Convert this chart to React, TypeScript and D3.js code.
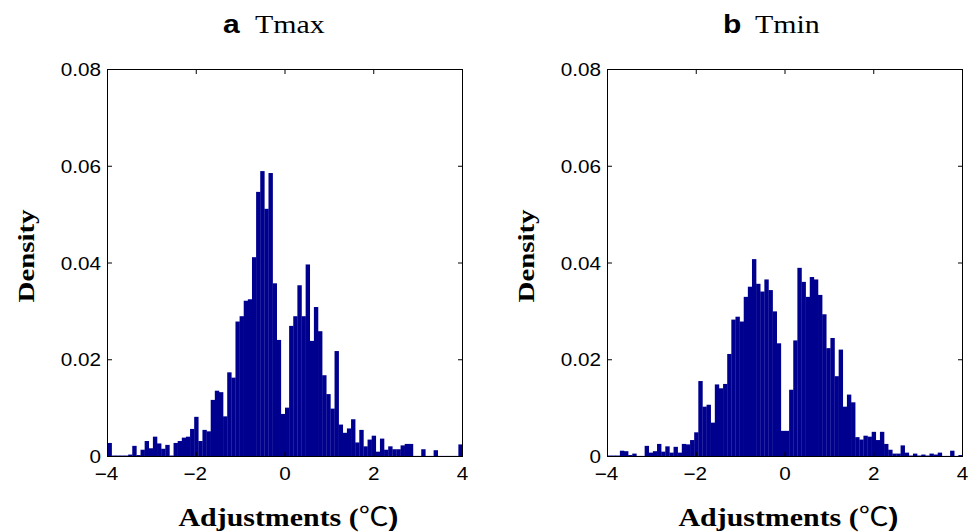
import React from "react";
import * as d3 from "d3";

// Histogram densities, bins of equal width starting at -4
const binStart = -4;
const binWidth = 8 / 86;

const tmaxDensity = [
  0.0028, 0.0002, 0.0002, 0.0002, 0.0002, 0.0004, 0.0022, 0.0003, 0.0014, 0.0032,
  0.0017, 0.0041, 0.0027, 0.0016, 0.0024, 0.0002, 0.0028, 0.0032, 0.0039, 0.0041,
  0.0057, 0.0082, 0.0032, 0.0055, 0.0052, 0.0117, 0.0136, 0.0133, 0.0083, 0.0174,
  0.0163, 0.0279, 0.029, 0.0322, 0.0325, 0.0412, 0.0547, 0.059, 0.0512, 0.0586,
  0.0358, 0.0241, 0.0088, 0.0101, 0.027, 0.029, 0.0354, 0.029, 0.0397, 0.0239,
  0.0309, 0.0259, 0.0168, 0.0129, 0.0099, 0.0218, 0.0066, 0.0049, 0.0058, 0.0077,
  0.0029, 0.0055, 0.0021, 0.0035, 0.0043, 0.001, 0.0037, 0.0014, 0.0021, 0.0015,
  0.0015, 0.0023, 0.0026, 0.0026, 0.0001, 0.0001, 0.0015, 0.0001, 0.0001, 0.0013,
  0.0001, 0.0001, 0.0001, 0.0001, 0.0001, 0.0025,
];

const tminDensity = [
  0.0002, 0.0002, 0.0002, 0.0012, 0.0011, 0.0003, 0.0006, 0.0001, 0.0001, 0.0022,
  0.0008, 0.0011, 0.0026, 0.001, 0.0021, 0.0008, 0.002, 0.0008, 0.0026, 0.0025,
  0.0034, 0.005, 0.0156, 0.0103, 0.0107, 0.007, 0.0149, 0.0141, 0.015, 0.0212,
  0.0283, 0.0289, 0.0279, 0.033, 0.0351, 0.0408, 0.0357, 0.0341, 0.0366, 0.0344,
  0.03, 0.0234, 0.0053, 0.0053, 0.0138, 0.024, 0.039, 0.0361, 0.033, 0.0371,
  0.0366, 0.0334, 0.0294, 0.0224, 0.0245, 0.0166, 0.0221, 0.0103, 0.0128, 0.0112,
  0.004, 0.0035, 0.0043, 0.0041, 0.0051, 0.0034, 0.0051, 0.0026, 0.0014, 0.0006,
  0.0006, 0.0023, 0.0008, 0.0002, 0.0006, 0.0002, 0.0004, 0.0002, 0.0006, 0.0004,
  0.0008, 0.0001, 0.0001, 0.0012, 0.0001, 0.0003,
];

const xTicks = [-4, -2, 0, 2, 4];
const yTicks = [0, 0.02, 0.04, 0.06, 0.08];
const panelLetters = ["a", "b"];
const panelNames = ["Tmax", "Tmin"];
const yLabel = "Density";
const xLabel = "Adjustments (";

const W = 976;
const H = 532;
const barColor = "#00008f";
const sans = "'Liberation Sans', Arial, Helvetica, sans-serif";
const serif = "'Liberation Serif', 'Times New Roman', serif";
const SX = 1.15;

function fmtY(v: number) {
  return v === 0 ? "0" : v.toFixed(2);
}
function fmtX(v: number) {
  return v < 0 ? "\u2212" + Math.abs(v) : String(v);
}

function Panel({ left, data, letter, name }: { left: number; data: number[]; letter: string; name: string }) {
  const width = 355;
  const top = 69.5;
  const bottom = 456.5;
  const x = d3.scaleLinear().domain([-4, 4]).range([left, left + width]);
  const y = d3.scaleLinear().domain([0, 0.08]).range([bottom, top]);
  const tick = 4.5;
  return (
    <g>
      <defs>
        <clipPath id={"clip-" + letter}>
          <rect x={left} y={top} width={width} height={bottom - top} />
        </clipPath>
      </defs>
      <g clipPath={`url(#clip-${letter})`}>
        {data.map((d, i) => {
          const x0 = x(binStart + i * binWidth);
          const x1 = x(binStart + (i + 1) * binWidth);
          const h = Math.max(y(0) - y(d), 0.6);
          return <rect key={i} x={x0} y={y(0) - h} width={x1 - x0 + 0.25} height={h} fill={barColor} />;
        })}
      </g>
      <rect x={left} y={top} width={width} height={bottom - top} fill="none" stroke="#000" strokeWidth={1} />
      {xTicks.map((t) => (
        <g key={"xt" + t}>
          <line x1={x(t)} x2={x(t)} y1={bottom} y2={bottom - tick} stroke="#000" />
          <line x1={x(t)} x2={x(t)} y1={top} y2={top + tick} stroke="#000" />
          <g transform={`translate(${x(t) - (t < 0 ? 1 : 0)},480) scale(${SX},1)`}>
            <text textAnchor="middle" fontFamily={sans} fontSize={18} fill="#000">
              {fmtX(t)}
            </text>
          </g>
        </g>
      ))}
      {yTicks.map((t) => (
        <g key={"yt" + t}>
          <line x1={left} x2={left + tick} y1={y(t)} y2={y(t)} stroke="#000" />
          <line x1={left + width} x2={left + width - tick} y1={y(t)} y2={y(t)} stroke="#000" />
          <g transform={`translate(${left - 6.5},${y(t) + 6.5}) scale(${SX},1)`}>
            <text textAnchor="end" fontFamily={sans} fontSize={18} fill="#000">
              {fmtY(t)}
            </text>
          </g>
        </g>
      ))}
      <g transform={`translate(${left + 115.5},33) scale(1.2,1)`}>
        <text fontFamily={sans} fontWeight="bold" fontSize={25} fill="#000">{letter}</text>
      </g>
      <g transform={`translate(${left + 147.5},33) scale(${SX},1)`}>
        <text fontFamily={serif} fontSize={26} fill="#000">{name}</text>
      </g>
      <g transform={`translate(${left - 74},256) rotate(-90) scale(1.2,1)`}>
        <text textAnchor="middle" fontFamily={serif} fontWeight="bold" fontSize={24} fill="#000">
          {yLabel}
        </text>
      </g>
      <g transform={`translate(${left + 181},525.5) scale(${SX},1)`}>
        <text textAnchor="middle" fontFamily={serif} fontWeight="bold" fontSize={26} fill="#000">
          {xLabel}
          <tspan fontFamily="'Noto Sans CJK SC', 'DejaVu Sans', sans-serif" fontWeight="normal">℃</tspan>
          <tspan fontFamily={sans}>)</tspan>
        </text>
      </g>
    </g>
  );
}

export default function App() {
  return (
    <svg width={W} height={H} style={{ position: "absolute", left: 0, top: 0, background: "#fff" }}>
      <rect width={W} height={H} fill="#fff" />
      <Panel left={107.5} data={tmaxDensity} letter={panelLetters[0]} name={panelNames[0]} />
      <Panel left={607.5} data={tminDensity} letter={panelLetters[1]} name={panelNames[1]} />
    </svg>
  );
}
